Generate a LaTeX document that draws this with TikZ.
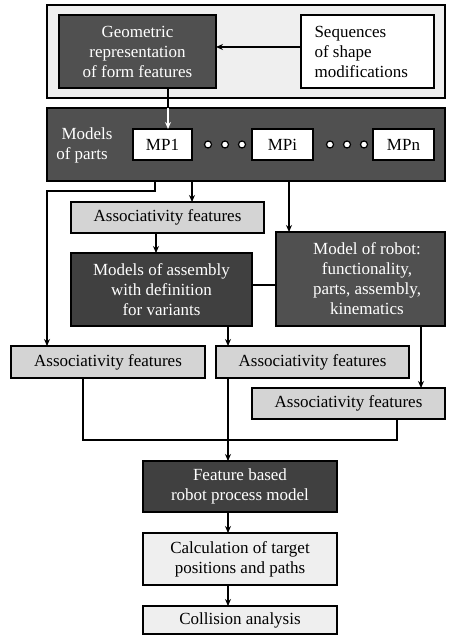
\documentclass[tikz,border=0pt]{standalone}
\usepackage{fontspec}
\setmainfont{Liberation Serif}
\usetikzlibrary{arrows.meta}
\definecolor{darkfill}{HTML}{505050}
\definecolor{darkerfill}{HTML}{404040}
\definecolor{lightfill}{HTML}{D4D4D4}
\definecolor{paper}{HTML}{EFEFEF}
\tikzset{
  blk/.style={draw=black, line width=1.5pt, inner sep=0pt, outer sep=0pt, align=center,
              font=\fontsize{17}{20}\selectfont},
  darkbox/.style={blk, fill=darkfill, text=white},
  darkerbox/.style={blk, fill=darkerfill, text=white},
  lightbox/.style={blk, fill=lightfill},
  palebox/.style={blk, fill=paper},
  whitebox/.style={blk, fill=white},
  conn/.style={line width=1.3pt},
  arr/.style={conn, -{Stealth[length=7pt,width=6pt]}},
  dot/.style={circle, draw=black, fill=white, line width=1.2pt, minimum size=7pt, inner sep=0pt},
}
% box placed by its corners (left, top, right, bottom), in pixel units
\newcommand{\pbox}[7]{%
  \node[#1, minimum width={(#5)-(#3)}, minimum height={(#6)-(#4)}] (#2)
    at ({((#3)+(#5))/2},{((#4)+(#6))/2}) {#7};}
\begin{document}
\begin{tikzpicture}[x=1pt, y=-1pt]
\useasboundingbox[fill=white] (0,0) rectangle (448,636);

% upper panel: form features
\pbox{palebox}{top}{47}{5}{445}{98}{}
\pbox{darkbox}{geo}{59}{15}{216}{88}{}
\node[text=white, align=center, font=\fontsize{17}{20}\selectfont] at (geo.center)
  {Geometric\\representation\\of form features};
\pbox{whitebox}{seq}{301}{15}{434}{88}{}
\node[align=left, anchor=west, font=\fontsize{17}{20}\selectfont] at (311,51.5)
  {Sequences\\of shape\\modifications};

% panel with the models of parts
\pbox{darkbox}{parts}{47}{108}{445}{181}{}
\node[text=white, align=center, font=\fontsize{17}{20}\selectfont] (mptxt) at (82,145)
  {\hspace*{10pt}Models\\of parts};
\pbox{whitebox}{mp1}{133}{129}{192}{160}{MP1}
\pbox{whitebox}{mpi}{252}{129}{313}{160}{MPi}
\pbox{whitebox}{mpn}{373}{129}{434}{160}{MPn}
\foreach \x [count=\i] in {208,225,242,330,347,364} \node[dot] (d\i) at (\x,144.5) {};

% associativity and models
\pbox{lightbox}{as1}{71}{202}{264}{233}{Associativity features}
\pbox{darkbox}{robot}{276}{232}{445}{326}{}
\node[text=white, align=center, font=\fontsize{17}{20}\selectfont] at (367,279)
  {Model of robot:\\functionality,\\parts, assembly,\\kinematics};
\pbox{darkerbox}{asm}{71}{253}{252}{326}{Models of assembly\\with definition\\for variants}
\pbox{lightbox}{asL}{11}{346}{205}{378}{Associativity features}
\pbox{lightbox}{asM}{216}{346}{409}{378}{Associativity features}
\pbox{lightbox}{asR}{252}{388}{445}{419}{Associativity features}

% process chain
\pbox{darkerbox}{feat}{143}{461}{337}{512}{Feature based\\robot process model}
\pbox{palebox}{calc}{143}{533}{337}{585}{Calculation of target\\positions and paths}
\pbox{palebox}{coll}{143}{606}{337}{634}{Collision analysis}

% guide coordinates for the connectors
\coordinate (xg) at (168,0);
\coordinate (xa) at (155,0);
\coordinate (xL) at (47,191);
\coordinate (xb) at (192,0);
\coordinate (xr) at (289,0);
\coordinate (xc) at (156,0);
\coordinate (xm) at (228,0);
\coordinate (xR) at (421,0);
\coordinate (yl) at (0,285);
\coordinate (jL) at (83,440);
\coordinate (jR) at (397,440);
\coordinate (xj) at (397,0);

% connectors
\draw[arr] ([yshift=4.5pt]seq.west) -- ([yshift=4.5pt]geo.east);
\draw[conn] (geo.south -| xg) -- (parts.north -| xg);
\draw[arr, draw=white, fill=white] (parts.north -| xg) -- (mp1.north -| xg);
\draw[arr] (parts.south -| xa) |- (xL) -- (asL.north -| xL);
\draw[arr] (parts.south -| xb) -- (as1.north -| xb);
\draw[arr] (parts.south -| xr) -- (robot.north -| xr);
\draw[arr] (as1.south -| xc) -- (asm.north -| xc);
\draw[conn] (asm.east |- yl) -- (robot.west |- yl);
\draw[arr] (asm.south -| xm) -- (asM.north -| xm);
\draw[arr] (robot.south -| xR) -- (asR.north -| xR);
\draw[conn] (asL.south -| jL) -- (jL) -- (jR) -- (asR.south -| xj);
\draw[arr] (asM.south -| xm) -- (feat.north -| xm);
\draw[arr] (feat.south -| xm) -- (calc.north -| xm);
\draw[arr] (calc.south -| xm) -- (coll.north -| xm);
\end{tikzpicture}
\end{document}
